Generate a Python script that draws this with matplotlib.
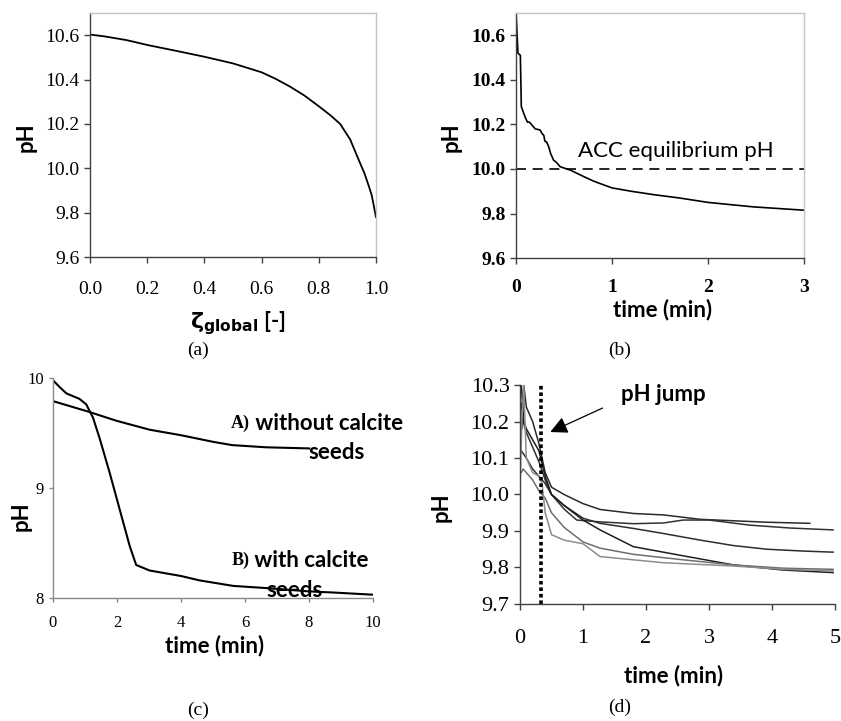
import matplotlib
matplotlib.use("Agg")
import matplotlib.pyplot as plt
import numpy as np
from matplotlib.ticker import FormatStrFormatter

SERIF = "Liberation Serif"
SANS = "Lato"

# (a) pH vs global extent
a_zeta = [0.0, 0.05, 0.128, 0.204, 0.3, 0.4, 0.5, 0.6, 0.65, 0.7, 0.75, 0.8, 0.84, 0.875,
          0.89, 0.91, 0.93, 0.95, 0.96, 0.974, 0.985, 0.992, 1.0]
a_ph = [10.603, 10.595, 10.578, 10.555, 10.53, 10.503, 10.473, 10.433, 10.403, 10.368,
        10.328, 10.28, 10.24, 10.20, 10.17, 10.13, 10.068, 10.007, 9.977, 9.924, 9.88,
        9.835, 9.78]

# (b) pH vs time with ACC equilibrium
b_time = [0.0, 0.01, 0.02, 0.045, 0.055, 0.08, 0.1, 0.12, 0.14, 0.17, 0.2, 0.25, 0.27, 0.29,
          0.30, 0.32, 0.34, 0.36, 0.39, 0.42, 0.46, 0.565, 0.7, 0.81, 1.0, 1.2, 1.43, 1.7,
          2.0, 2.47, 3.0]
b_ph = [10.70, 10.61, 10.52, 10.51, 10.28, 10.25, 10.227, 10.21, 10.21, 10.195, 10.18, 10.175,
        10.16, 10.15, 10.125, 10.12, 10.10, 10.07, 10.04, 10.03, 10.01, 9.995, 9.967, 9.945,
        9.915, 9.90, 9.885, 9.87, 9.85, 9.83, 9.815]
acc_eq_ph = 10.0

# (c) with / without calcite seeds
c_time_a = [0.0, 1.04, 2.0, 3.02, 4.0, 5.0, 5.6, 6.67, 8.0]
c_ph_a = [9.79, 9.70, 9.61, 9.53, 9.48, 9.42, 9.39, 9.37, 9.36]
c_time_b = [0.0, 0.2, 0.42, 0.83, 1.04, 1.25, 1.46, 1.77, 2.08, 2.4, 2.6, 3.02, 4.0, 4.58,
            5.63, 6.67, 8.0, 8.75, 10.0]
c_ph_b = [9.98, 9.92, 9.86, 9.81, 9.76, 9.64, 9.45, 9.14, 8.81, 8.47, 8.30, 8.25, 8.20, 8.16,
          8.11, 8.09, 8.06, 8.05, 8.03]

# (d) repeated runs
d_runs = [
    ([0.03, 0.06, 0.1, 0.2, 0.3, 0.4, 0.5, 0.7, 1.0, 1.27, 1.8, 2.28, 2.86, 3.39, 3.92, 4.6],
     [10.18, 10.30, 10.24, 10.2, 10.14, 10.06, 10.02, 10.0, 9.975, 9.959, 9.948, 9.944, 9.932,
      9.928, 9.924, 9.921]),
    ([0.02, 0.05, 0.1, 0.2, 0.3, 0.4, 0.5, 0.7, 0.9, 1.27, 1.8, 2.28, 2.59, 3.0, 3.65, 4.3, 4.97],
     [10.25, 10.2, 10.17, 10.13, 10.09, 10.04, 10.0, 9.96, 9.93, 9.925, 9.92, 9.922, 9.93, 9.93,
      9.916, 9.908, 9.903]),
    ([0.02, 0.1, 0.2, 0.3, 0.4, 0.5, 0.7, 1.0, 1.27, 1.8, 2.28, 2.86, 3.39, 3.92, 4.5, 4.97],
     [10.12, 10.1, 10.07, 10.05, 10.03, 10.0, 9.97, 9.935, 9.921, 9.907, 9.893, 9.875, 9.86,
      9.85, 9.845, 9.842]),
    ([0.02, 0.06, 0.1, 0.2, 0.3, 0.4, 0.5, 0.7, 1.0, 1.27, 1.8, 2.59, 3.39, 4.18, 4.97],
     [10.3, 10.2, 10.18, 10.15, 10.12, 10.05, 10.0, 9.97, 9.93, 9.903, 9.857, 9.832, 9.807,
      9.793, 9.786]),
    ([0.02, 0.05, 0.1, 0.2, 0.3, 0.4, 0.5, 0.7, 1.0, 1.27, 1.8, 2.59, 3.39, 4.18, 4.97],
     [10.06, 10.07, 10.06, 10.04, 10.01, 9.99, 9.95, 9.91, 9.87, 9.853, 9.836, 9.821, 9.807,
      9.798, 9.795]),
    ([0.0, 0.03, 0.06, 0.1, 0.2, 0.3, 0.35, 0.4, 0.5, 0.7, 1.0, 1.27, 1.8, 2.28, 3.39, 4.18, 4.97],
     [10.02, 10.2, 10.3, 10.1, 10.06, 10.05, 10.03, 9.95, 9.89, 9.875, 9.865, 9.83, 9.821, 9.813,
      9.804, 9.795, 9.791]),
]
d_colors = ["#2a2a2a", "#333333", "#2e2e2e", "#1e1e1e", "#6e6e6e", "#8c8c8c"]
jump_time = 0.34


def style_axes(ax, boxed, spine_color="#404040"):
    for side in ("left", "bottom"):
        ax.spines[side].set_color(spine_color)
        ax.spines[side].set_linewidth(1.0)
    if boxed:
        for side in ("top", "right"):
            ax.spines[side].set_color("#c4c4c4")
            ax.spines[side].set_linewidth(1.0)
    else:
        ax.spines["top"].set_visible(False)
        ax.spines["right"].set_visible(False)
    ax.tick_params(direction="out", length=4, width=1.0, color=spine_color,
                   top=False, right=False)


def set_tick_font(ax, size, weight="normal"):
    for lab in ax.get_xticklabels() + ax.get_yticklabels():
        lab.set_fontfamily(SERIF)
        lab.set_fontsize(size)
        lab.set_fontweight(weight)


def set_labels(ax, xlabel, ylabel, xpos, ypos, size=16):
    ax.set_xlabel(xlabel, fontfamily=SANS, fontweight="bold", fontsize=size)
    ax.set_ylabel("pH", fontfamily=SANS, fontweight="bold", fontsize=16)
    ax.xaxis.set_label_coords(*xpos)
    ax.yaxis.set_label_coords(*ypos)


fig = plt.figure(figsize=(8.41, 7.21), dpi=100)
fig.patch.set_facecolor("white")

# ---- (a)
ax = fig.add_axes([0.107, 0.6435, 0.340, 0.3384])
ax.plot(a_zeta, a_ph, color="black", lw=1.3)
ax.set_xlim(0, 1.0)
ax.set_ylim(9.6, 10.7)
ax.set_xticks(np.arange(0, 1.01, 0.2))
ax.set_yticks(np.arange(9.6, 10.61, 0.2))
ax.xaxis.set_major_formatter(FormatStrFormatter("%.1f"))
ax.yaxis.set_major_formatter(FormatStrFormatter("%.1f"))
style_axes(ax, boxed=True)
ax.tick_params(axis="x", pad=13)
set_tick_font(ax, 14)
set_labels(ax, r"$\mathbf{\zeta_{global}}$ [-]", "pH", (0.517, -0.215), (-0.185, 0.49))

# ---- (b)
ax = fig.add_axes([0.6136, 0.642, 0.3424, 0.340])
ax.plot(b_time, b_ph, color="black", lw=1.2)
ax.axhline(acc_eq_ph, color="black", lw=1.2, linestyle=(0, (6, 4)))
ax.text(1.66, 10.035, "ACC equilibrium pH", fontfamily=SANS, fontsize=16,
        ha="center", va="bottom")
ax.set_xlim(0, 3)
ax.set_ylim(9.6, 10.7)
ax.set_xticks([0, 1, 2, 3])
ax.set_yticks(np.arange(9.6, 10.61, 0.2))
ax.yaxis.set_major_formatter(FormatStrFormatter("%.1f"))
style_axes(ax, boxed=True)
ax.tick_params(axis="x", pad=11)
set_tick_font(ax, 14, "bold")
set_labels(ax, "time (min)", "pH", (0.509, -0.165), (-0.19, 0.494))

# ---- (c)
ax = fig.add_axes([0.063, 0.1706, 0.3805, 0.3051])
ax.plot(c_time_a, c_ph_a, color="black", lw=1.5)
ax.plot(c_time_b, c_ph_b, color="black", lw=1.5)
ax.set_xlim(0, 10)
ax.set_ylim(8, 10)
ax.set_xticks(np.arange(0, 11, 2))
ax.set_yticks([8, 9, 10])
style_axes(ax, boxed=False, spine_color="#8a8a8a")
ax.tick_params(length=3)
ax.tick_params(axis="x", pad=9)
set_tick_font(ax, 12)
for xpos, ypos, tag, rest in [(5.57, 9.59, "A)", "without calcite"),
                              (5.57, 8.34, "B)", "with calcite")]:
    t = ax.text(xpos, ypos, tag, fontfamily=SERIF, fontweight="bold", fontsize=13,
                ha="left", va="center")
    ax.annotate(" " + rest, xy=(1, 0.5), xycoords=t, fontfamily=SANS, fontweight="bold",
                fontsize=16, ha="left", va="center")
ax.text(8.87, 9.32, "seeds", fontfamily=SANS, fontweight="bold", fontsize=16,
        ha="center", va="center")
ax.text(7.55, 8.07, "seeds", fontfamily=SANS, fontweight="bold", fontsize=16,
        ha="center", va="center")
set_labels(ax, "time (min)", "pH", (0.506, -0.165), (-0.066, 0.37))

# ---- (d)
ax = fig.add_axes([0.6183, 0.1623, 0.3746, 0.3037])
for (tt, pp), col in zip(d_runs, d_colors):
    ax.plot(tt, pp, color=col, lw=1.1)
ax.plot([jump_time, jump_time], [9.7, 10.3], color="black", lw=2.6, linestyle=(0, (1, 0.8)))
ax.annotate("", xy=(0.44, 10.168), xytext=(1.35, 10.24),
            arrowprops=dict(arrowstyle="-|>", color="black", lw=0.9, mutation_scale=26))
ax.text(2.27, 10.275, "pH jump", fontfamily=SANS, fontweight="bold", fontsize=16,
        ha="center", va="center")
ax.set_xlim(0, 5)
ax.set_ylim(9.7, 10.3)
ax.set_xticks(np.arange(0, 6, 1))
ax.set_yticks(np.arange(9.7, 10.31, 0.1))
ax.yaxis.set_major_formatter(FormatStrFormatter("%.1f"))
style_axes(ax, boxed=False, spine_color="#404040")
ax.tick_params(axis="x", pad=14)
set_tick_font(ax, 16)
set_labels(ax, "time (min)", "pH", (0.486, -0.275), (-0.216, 0.443))

# panel captions
for label, x, y in [("(a)", 198, 350), ("(b)", 620, 350), ("(c)", 198, 710), ("(d)", 620, 707)]:
    fig.text(x / 841, 1 - y / 721, label, fontfamily=SERIF, fontsize=14,
             ha="center", va="center")

fig.savefig("out.png", dpi=100)
